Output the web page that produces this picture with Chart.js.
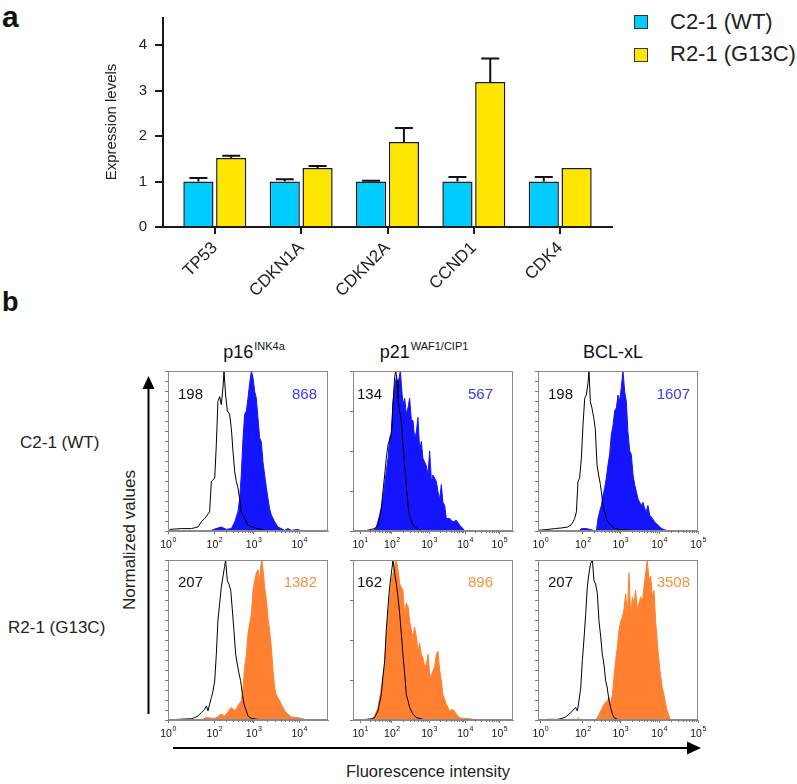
<!DOCTYPE html>
<html><head><meta charset="utf-8">
<script src="https://cdn.jsdelivr.net/npm/chart.js@4.4.1/dist/chart.umd.min.js"></script>
<style>
body{margin:0;background:#fff;font-family:"Liberation Sans",Arial,sans-serif;color:#111;}
#root{position:relative;width:797px;height:784px;overflow:hidden;background:#fff;}
.abs{position:absolute;white-space:nowrap;}
canvas{display:block;position:absolute;}
.sup{font-size:11px;position:relative;top:-8px;margin-left:1px;}
</style></head><body><div id="root"></div>
<script>
// ---------- Panel a data ----------
const genes = ['TP53','CDKN1A','CDKN2A','CCND1','CDK4'];
const wtValues  = [1.00, 1.00, 1.00, 1.00, 1.00];
const wtErrors  = [0.08, 0.05, 0.02, 0.10, 0.10];
const mutValues = [1.52, 1.30, 1.87, 3.19, 1.30];
const mutErrors = [0.05, 0.04, 0.31, 0.52, 0.00];
const expressionTicks = [0, 1, 2, 3, 4];
const seriesNames = ['C2-1 (WT)', 'R2-1 (G13C)'];

// ---------- Panel b data (x: display channel 0-1000, y: % of mode) ----------
const p16WT_iso = [[10,1],[83,1.5],[146,1.5],[187,2.5],[208,5.7],[229,7.8],[260,12],[271,31],[292,33],[302,54],[312,81],[323,84],[333,79],[344,90],[350,100],[360,85],[371,75],[385,73],[396,64],[406,50],[417,37],[427,31],[437,27],[448,20],[458,12],[479,8],[500,3.6],[542,2],[604,0.4],[687,0.4]];
const p16WT_stain = [[271,0.4],[300,1.5],[333,2.5],[365,1],[396,1.5],[417,5.7],[437,12],[448,20],[458,35],[469,58],[479,73],[490,75],[500,83],[510,92],[521,100],[531,96],[542,87],[552,83],[562,71],[573,58],[583,56],[594,43],[604,35],[615,27],[625,20],[635,14],[646,9.9],[667,5.7],[687,2.5],[708,1.5],[729,0.4],[750,1.5],[771,0.4],[812,1],[833,0]];
const p21WT_iso = [[73,0],[104,0.8],[135,1.5],[156,3.6],[177,14],[187,24.5],[198,35],[208,45.5],[219,54],[229,57],[240,59],[250,79],[260,96],[267,100],[275,94],[281,83],[287,77],[296,73],[302,69],[312,54],[323,41],[333,29],[344,16],[354,9.9],[365,5.7],[375,3.6],[396,2],[417,0.8],[437,0]];
const p21WT_stain = [[125,0],[146,2.5],[167,9.9],[187,20],[208,37],[219,45.5],[229,58],[240,62],[250,81],[260,90],[271,96],[281,92],[296,100],[302,92],[312,79],[323,83],[333,73],[344,77],[354,83],[365,69],[375,69],[385,58],[396,62],[406,71],[417,50],[427,56],[437,45.5],[448,43],[458,41],[469,35],[479,50],[490,31],[500,35],[510,33],[521,31],[531,24.5],[542,20],[552,29],[562,18],[573,16],[583,7.8],[604,7.8],[625,5.7],[646,6.7],[667,3.6],[687,1.5],[698,0]];
const bclWT_iso = [[0,0.4],[62,1],[104,1.5],[146,1.9],[187,2.5],[208,4],[219,5.7],[229,7.8],[240,12],[250,31],[260,33],[271,45.5],[281,66],[292,83],[302,85],[312,92],[319,100],[327,81],[337,77],[348,71],[358,64],[369,41],[379,35],[390,29],[396,24.5],[406,16],[417,12],[427,7.8],[437,5.7],[458,3.6],[479,1.5],[521,0.8],[604,0.4],[625,0.4]];
const bclWT_stain = [[260,0.4],[271,1.5],[302,1.5],[365,0],[375,7.8],[385,12],[396,16],[406,22],[417,27],[427,33],[437,41],[448,48],[458,60],[469,66],[479,75],[490,77],[500,85],[510,81],[521,90],[531,100],[542,87],[552,81],[562,62],[573,50],[583,48],[594,35],[604,29],[615,24.5],[625,20],[635,18],[646,16],[656,18],[667,14],[677,12],[687,16],[698,9.9],[708,8.8],[729,5.7],[750,3.6],[771,1.5],[792,0.8],[812,0]];
const p16MUT_iso = [[0,0],[62,0.4],[146,0.8],[167,1.5],[187,2.5],[208,4.6],[229,6.7],[240,8.8],[250,5.7],[260,9.9],[271,14],[281,18],[292,24.5],[302,41],[312,62],[323,73],[333,83],[344,90],[354,96],[360,100],[371,87],[381,85],[392,81],[402,69],[412,56],[423,41],[433,35],[444,29],[454,24.5],[465,16],[475,9.9],[490,5.7],[500,2.5],[521,1],[562,0.4],[604,0]];
const p16MUT_stain = [[208,0],[240,1.5],[292,1],[333,3.6],[354,2.5],[396,7.8],[417,5.7],[437,8.8],[458,12],[469,20],[479,33],[490,41],[500,54],[510,60],[521,66],[531,81],[542,87],[552,92],[562,94],[573,87],[579,96],[587,100],[596,92],[604,83],[615,75],[625,64],[635,56],[646,45.5],[656,31],[667,20],[677,16],[687,14],[698,12],[708,9.9],[729,5.7],[750,3.6],[771,1.9],[812,1.5],[854,0.4],[870,0]];
const p21MUT_iso = [[21,0],[83,0.4],[115,0.8],[135,1.5],[156,5.7],[177,16],[187,27],[198,37],[208,56],[219,71],[229,83],[240,92],[250,100],[260,92],[271,85],[281,77],[292,66],[302,54],[312,41],[323,29],[333,16],[344,12],[354,7.8],[375,3.6],[396,1.5],[437,0.4],[458,0]];
const p21MUT_stain = [[115,0],[135,2.5],[156,7.8],[177,20],[198,35],[208,52],[219,64],[229,75],[240,87],[250,92],[260,96],[271,100],[281,94],[292,85],[302,83],[312,81],[323,66],[333,73],[344,71],[354,62],[365,56],[375,52],[385,58],[396,52],[406,43],[417,48],[427,41],[437,39],[448,33],[458,35],[469,41],[479,29],[490,27],[500,31],[510,33],[521,41],[531,43],[542,31],[552,24.5],[562,16],[583,9.9],[604,5.7],[625,6.7],[646,3.6],[667,1.5],[687,1],[729,0.8],[771,0]];
const bclMUT_iso = [[6,0],[58,0.4],[121,0.4],[152,1],[173,1.9],[194,3.6],[215,5.7],[235,7.8],[246,5.7],[256,12],[267,20],[277,37],[287,50],[298,66],[308,83],[319,92],[329,98],[340,100],[350,87],[360,85],[371,79],[381,62],[392,52],[402,41],[412,35],[423,24.5],[433,20],[444,12],[454,7.8],[465,3.6],[475,1.5],[496,0.4],[537,0]];
const bclMUT_stain = [[246,0],[252,1.5],[258,0],[360,0],[371,1.5],[392,5.7],[412,9.9],[433,12],[444,14],[454,9.9],[465,16],[475,27],[485,37],[496,45.5],[506,56],[517,62],[527,64],[537,69],[548,79],[558,64],[569,92],[579,64],[590,77],[600,73],[610,81],[621,69],[631,73],[642,77],[652,73],[662,83],[673,92],[683,100],[694,87],[704,90],[715,77],[725,81],[735,62],[746,48],[756,37],[767,27],[777,20],[787,16],[798,9.9],[808,5.7],[819,2.5],[829,0]];

const isoMFI   = ['198','134','198','207','162','207'];
const stainMFI = ['868','567','1607','1382','896','3508'];
const markerTitles = ['p16','p21','BCL-xL'];
const markerSups   = ['INK4a','WAF1/CIP1',''];
const rowLabels = ['C2-1 (WT)','R2-1 (G13C)'];

// log-decade tick labels: display position and exponent
const p16TickPos = [0, 290, 535, 820];        const p16TickExp = [0, 2, 3, 4];
const p21TickPos = [45, 243, 475, 700, 915];  const p21TickExp = [1, 2, 3, 4, 5];
const bclTickPos = [15, 280, 515, 757, 1000]; const bclTickExp = [0, 2, 3, 4, 5];

// ---------- build ----------
const root = document.getElementById('root');
const FONT = '"Liberation Sans", Arial, sans-serif';
function addText(html, left, top, style){
  const d = document.createElement('div'); d.className='abs'; d.innerHTML = html;
  d.style.left = left+'px'; d.style.top = top+'px';
  Object.assign(d.style, style||{}); root.appendChild(d); return d;
}
function addCanvas(left, top, w, h){
  const c = document.createElement('canvas'); c.width=w; c.height=h;
  c.style.left=left+'px'; c.style.top=top+'px'; c.style.width=w+'px'; c.style.height=h+'px';
  root.appendChild(c); return c;
}

// ---------- Panel a ----------
const BLUE='#00CCFF', YELLOW='#FFE600';
const errorBars = {id:'errorBars', afterDatasetsDraw(chart){
  const ctx = chart.ctx, ys = chart.scales.y;
  [[wtValues,wtErrors],[mutValues,mutErrors]].forEach(([vals,errs],di)=>{
    chart.getDatasetMeta(di).data.forEach((bar,i)=>{
      if(!errs[i]) return;
      const yTop = ys.getPixelForValue(vals[i]+errs[i]);
      ctx.save(); ctx.strokeStyle='#111'; ctx.lineWidth=2; ctx.beginPath();
      ctx.moveTo(bar.x, bar.y); ctx.lineTo(bar.x, yTop);
      ctx.moveTo(bar.x-9, yTop); ctx.lineTo(bar.x+9, yTop);
      ctx.stroke(); ctx.restore();
    });
  });
}};
const barCanvas = addCanvas(90, 0, 530, 330);
new Chart(barCanvas, {
  type:'bar',
  data:{datasets:[
    {label:seriesNames[0], data:genes.map((g,i)=>({x:i,y:wtValues[i]})), backgroundColor:BLUE, borderColor:'#1a1a1a', borderWidth:1.5, categoryPercentage:0.76, barPercentage:0.92},
    {label:seriesNames[1], data:genes.map((g,i)=>({x:i,y:mutValues[i]})), backgroundColor:YELLOW, borderColor:'#1a1a1a', borderWidth:1.5, categoryPercentage:0.76, barPercentage:0.92}
  ]},
  options:{
    responsive:false, animation:false, events:[],
    layout:{padding:{left:0,right:8,top:18,bottom:0}},
    plugins:{legend:{display:false}, tooltip:{enabled:false}},
    scales:{
      x:{type:'linear', min:-0.6, max:4.6, offset:false,
         afterBuildTicks:s=>{ s.ticks = genes.map((g,i)=>({value:i})); },
         afterFit:s=>{ s.height = 103; },
         ticks:{autoSkip:false, minRotation:45, maxRotation:45, padding:4, color:'#222', font:{family:FONT,size:17},
                callback:(v)=>genes[v]},
         grid:{drawOnChartArea:false, drawTicks:true, tickLength:7, color:'#1a1a1a', lineWidth:2, offset:false},
         border:{color:'#1a1a1a', width:2}},
      y:{min:0, max:4.6,
         afterBuildTicks:s=>{ s.ticks = expressionTicks.map(v=>({value:v})); },
         afterFit:s=>{ s.width = 73; },
         ticks:{padding:8, color:'#222', font:{family:FONT,size:15}},
         grid:{drawOnChartArea:false, drawTicks:true, tickLength:8, color:'#1a1a1a', lineWidth:2},
         border:{color:'#1a1a1a', width:2}}
    }
  },
  plugins:[errorBars]
});
addText('Expression levels', 110, 122, {fontSize:'15px', transform:'translate(-50%,-50%) rotate(-90deg)', color:'#222'});
addText('a', 2, 0, {fontSize:'30px', fontWeight:'bold', lineHeight:'34px', color:'#111'});
// legend
[[BLUE,seriesNames[0],15,9],[YELLOW,seriesNames[1],48,41]].forEach(([c,t,sy,ty])=>{
  addText('', 634, sy, {width:'12px', height:'12px', background:c, border:'1px solid #333'});
  addText(t, 670, ty, {fontSize:'22px', lineHeight:'26px', color:'#222'});
});

// ---------- Panel b ----------
addText('b', 2, 287, {fontSize:'27px', fontWeight:'bold', lineHeight:'30px', color:'#111'});
const colLeft = [168, 353, 538];
const rowTop = [371, 560];
const titleCenters = [254, 424, 613];
markerTitles.forEach((t,i)=>{
  const sup = markerSups[i] ? '<span class="sup">'+markerSups[i]+'</span>' : '';
  addText(t+sup, titleCenters[i], 342, {fontSize:'18px', lineHeight:'20px', transform:'translateX(-50%)', color:'#111'});
});
addText(rowLabels[0], 20, 433, {fontSize:'17px', lineHeight:'20px', color:'#222'});
addText(rowLabels[1], 8, 618, {fontSize:'17px', lineHeight:'20px', color:'#222'});
addText('Normalized values', 130, 540, {fontSize:'17px', transform:'translate(-50%,-50%) rotate(-90deg)', color:'#222'});
addText('Fluorescence intensity', 428, 762, {fontSize:'16.5px', lineHeight:'19px', transform:'translateX(-50%)', color:'#222'});

// arrows
const svgNS='http://www.w3.org/2000/svg';
const svg=document.createElementNS(svgNS,'svg');
svg.setAttribute('width','797'); svg.setAttribute('height','784');
svg.style.position='absolute'; svg.style.left='0'; svg.style.top='0';
svg.innerHTML = '<line x1="148.5" y1="714" x2="148.5" y2="385" stroke="#000" stroke-width="2"/>'+
  '<polygon points="148.5,376 142.5,389 154.5,389" fill="#000"/>'+
  '<line x1="173" y1="748" x2="690" y2="748" stroke="#000" stroke-width="2"/>'+
  '<polygon points="701,748 687,741.5 687,754.5" fill="#000"/>';
root.appendChild(svg);

const PADL=12, YW=4, PADR=14, PADT=4, XH=22, BOX=160;
const frame = {id:'frame', afterDraw(chart, args, opts){
  const a = chart.chartArea, ctx = chart.ctx;
  ctx.save(); ctx.strokeStyle='#8a8a8a'; ctx.lineWidth=1;
  ctx.strokeRect(Math.round(a.left)+0.5, Math.round(a.top)+0.5, Math.round(a.right-a.left)-1, Math.round(a.bottom-a.top)-1);
  const xs = chart.scales.x; const pos = opts.pos, exps = opts.exps;
  // minor ticks between decades at/above 10^2, positioned through the scale
  ctx.strokeStyle='#777'; ctx.beginPath();
  for(let i=0;i<pos.length-1;i++){
    if(exps[i] < 2 && exps[i+1]-exps[i] !== 1) continue;
    for(let k=2;k<=9;k++){
      const v = pos[i] + (pos[i+1]-pos[i])*Math.log10(k);
      const x = Math.round(xs.getPixelForValue(v))+0.5;
      ctx.moveTo(x, a.bottom); ctx.lineTo(x, a.bottom+2);
    }
  }
  ctx.stroke();
  // decade labels 10^n at the library's scale positions
  ctx.fillStyle='#111'; ctx.textBaseline='alphabetic';
  pos.forEach((v,i)=>{
    const x = xs.getPixelForValue(v);
    ctx.font='10.5px '+FONT; const w1 = ctx.measureText('10').width;
    ctx.font='7px '+FONT; const w2 = ctx.measureText(String(exps[i])).width;
    const x0 = x - (w1+w2)/2, yb = a.bottom + 17;
    ctx.font='10.5px '+FONT; ctx.fillText('10', x0, yb);
    ctx.font='7px '+FONT; ctx.fillText(String(exps[i]), x0+w1+0.5, yb-6);
  });
  ctx.restore();
}};

const panels = [
  {iso:p16WT_iso,  stain:p16WT_stain,  col:0,row:0, pos:p16TickPos, exps:p16TickExp, step:6.25},
  {iso:p21WT_iso,  stain:p21WT_stain,  col:1,row:0, pos:p21TickPos, exps:p21TickExp, step:25},
  {iso:bclWT_iso,  stain:bclWT_stain,  col:2,row:0, pos:bclTickPos, exps:bclTickExp, step:6.25},
  {iso:p16MUT_iso, stain:p16MUT_stain, col:0,row:1, pos:p16TickPos, exps:p16TickExp, step:6.25},
  {iso:p21MUT_iso, stain:p21MUT_stain, col:1,row:1, pos:p21TickPos, exps:p21TickExp, step:25},
  {iso:bclMUT_iso, stain:bclMUT_stain, col:2,row:1, pos:bclTickPos, exps:bclTickExp, step:6.25}
];
const FILL = ['#1414ff', '#ff8030'];
const TXT  = ['#3a3af2', '#f7913f'];
const isoLeftOff = [10, 4, 10];
const stainRightOff = [11, 20, 8];
panels.forEach((p,k)=>{
  const left = colLeft[p.col], top = rowTop[p.row];
  const cv = addCanvas(left-PADL, top-PADT, BOX+PADL+PADR, PADT+BOX+XH);
  new Chart(cv, {
    type:'line',
    data:{datasets:[
      {data:p.iso.map(([x,y])=>({x,y})), borderColor:'#000', borderWidth:1, fill:false, pointRadius:0, tension:0, order:0},
      {data:p.stain.map(([x,y])=>({x,y})), borderColor:FILL[p.row], backgroundColor:FILL[p.row], borderWidth:1, fill:'origin', pointRadius:0, tension:0, order:1}
    ]},
    options:{
      responsive:false, animation:false, events:[],
      layout:{padding:{left:PADL-YW, right:PADR, top:PADT, bottom:0}},
      plugins:{legend:{display:false}, tooltip:{enabled:false}, frame:{pos:p.pos, exps:p.exps}},
      scales:{
        x:{type:'linear', min:0, max:1000,
           afterBuildTicks:s=>{ s.ticks = p.pos.map(v=>({value:v})); },
           afterFit:s=>{ s.height = XH; },
           ticks:{display:false},
           grid:{drawOnChartArea:false, drawTicks:true, tickLength:3, color:'#777'},
           border:{color:'#8a8a8a'}},
        y:{type:'linear', min:0, max:100,
           afterFit:s=>{ s.width = YW; },
           ticks:{display:false, stepSize:p.step},
           grid:{drawOnChartArea:false, drawTicks:true, tickLength:3, color:'#777'},
           border:{color:'#8a8a8a'}}
      }
    },
    plugins:[frame]
  });
  const ty = p.row===0 ? 385 : 573;
  addText(isoMFI[k], left+isoLeftOff[p.col], ty, {fontSize:'15px', lineHeight:'17px', color:'#111'});
  const d = addText(stainMFI[k], 0, ty, {fontSize:'15px', lineHeight:'17px', color:TXT[p.row]});
  d.style.left=''; d.style.right=(797-(left+BOX-stainRightOff[p.col]))+'px';
});
</script></body></html>
